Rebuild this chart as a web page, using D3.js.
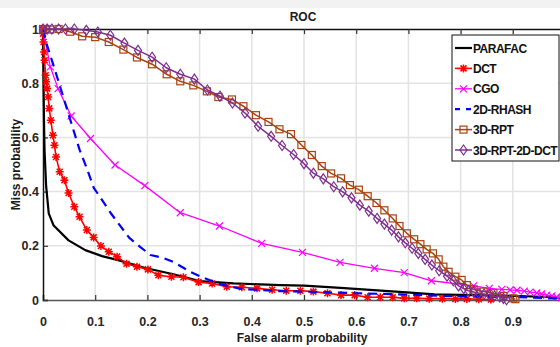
<!DOCTYPE html>
<html>
<head>
<meta charset="utf-8">
<script src="https://cdn.jsdelivr.net/npm/d3@7"></script>
<style>
  body { margin: 0; background: #fff; }
  svg { display: block; font-family: "Liberation Sans", Arial, sans-serif; }
</style>
</head>
<body>
<svg id="chart" width="560" height="347"></svg>
<script>
// ROC curves: [false alarm, miss]
const parafac = [[0,1],[0.001,0.8],[0.002,0.65],[0.003,0.55],[0.006,0.42],[0.011,0.32],[0.02,0.276],[0.049,0.22],
  [0.081,0.184],[0.113,0.162],[0.144,0.147],[0.196,0.118],[0.25,0.095],[0.3,0.07],[0.365,0.061],[0.454,0.055],
  [0.5,0.053],[0.57,0.045],[0.697,0.028],[0.75,0.021],[0.9,0.015],[0.97,0.011],[1,0.006]];

const dct = [[0,1],[0,0.983],[0.001,0.952],[0.002,0.915],[0.003,0.885],[0.005,0.829],[0.006,0.805],[0.008,0.78],
  [0.01,0.749],[0.012,0.707],[0.015,0.663],[0.019,0.608],[0.022,0.571],[0.025,0.528],[0.032,0.473],[0.041,0.442],
  [0.049,0.395],[0.06,0.344],[0.07,0.307],[0.084,0.258],[0.097,0.231],[0.111,0.199],[0.126,0.178],[0.142,0.16],
  [0.16,0.134],[0.18,0.123],[0.201,0.113],[0.221,0.091],[0.246,0.086],[0.269,0.084],[0.298,0.066],[0.324,0.061],
  [0.352,0.049],[0.381,0.047],[0.41,0.043],[0.439,0.038],[0.466,0.034],[0.493,0.034],[0.518,0.031],[0.545,0.025],
  [0.571,0.018],[0.597,0.018],[0.622,0.01],[0.646,0.01],[0.67,0.01],[0.692,0.006],[0.716,0.006],[0.74,0.005],
  [0.765,0.005],[0.79,0.004],[0.812,0.004],[0.835,0.003],[0.858,0.002]];

const cgo = [[0,1],[0.014,0.86],[0.029,0.78],[0.054,0.679],[0.091,0.596],[0.138,0.498],[0.195,0.422],[0.263,0.322],
  [0.338,0.273],[0.419,0.209],[0.497,0.176],[0.569,0.139],[0.635,0.117],[0.692,0.101],[0.744,0.071],[0.825,0.052],
  [0.855,0.043],[0.879,0.039],[0.895,0.037],[0.908,0.036],[0.922,0.033],[0.933,0.029],[0.946,0.026],[0.955,0.022],
  [0.965,0.018],[0.975,0.015],[0.984,0.011],[0.993,0.008],[1,0.005]];

const rhash = [[0,1],[0.006,0.95],[0.021,0.86],[0.038,0.755],[0.053,0.66],[0.07,0.555],[0.085,0.48],[0.097,0.415],
  [0.13,0.32],[0.165,0.23],[0.186,0.196],[0.206,0.166],[0.231,0.155],[0.25,0.14],[0.282,0.104],[0.31,0.08],
  [0.34,0.058],[0.38,0.041],[0.45,0.033],[0.5,0.031],[0.6,0.025],[0.7,0.02],[0.8,0.013],[0.9,0.011],[1,0.005]];

const rpt = [[0,1],[0.005,1],[0.014,0.998],[0.03,1],[0.052,0.99],[0.075,0.973],[0.1,0.97],[0.126,0.952],[0.154,0.924],
  [0.18,0.895],[0.209,0.87],[0.237,0.833],[0.263,0.807],[0.288,0.792],[0.314,0.77],[0.336,0.749],[0.362,0.74],
  [0.384,0.715],[0.408,0.682],[0.432,0.657],[0.453,0.63],[0.475,0.612],[0.495,0.572],[0.515,0.535],[0.534,0.494],
  [0.552,0.467],[0.571,0.449],[0.588,0.424],[0.605,0.407],[0.622,0.383],[0.639,0.358],[0.654,0.331],[0.67,0.301],
  [0.683,0.273],[0.697,0.246],[0.711,0.224],[0.723,0.206],[0.735,0.187],[0.747,0.172],[0.758,0.15],[0.767,0.123],
  [0.777,0.104],[0.79,0.086],[0.802,0.074],[0.812,0.055],[0.825,0.039],[0.844,0.031],[0.863,0.025],[0.882,0.015],
  [0.901,0.006],[0.905,0.003]];

const rptDct = [[0,1],[0.008,1],[0.017,1],[0.03,1],[0.043,1],[0.06,1],[0.083,0.995],[0.105,0.989],[0.129,0.977],
  [0.156,0.948],[0.182,0.921],[0.209,0.896],[0.236,0.857],[0.263,0.833],[0.29,0.815],[0.315,0.775],[0.339,0.752],
  [0.363,0.727],[0.387,0.69],[0.412,0.641],[0.437,0.604],[0.458,0.57],[0.48,0.537],[0.5,0.503],[0.518,0.468],
  [0.537,0.447],[0.557,0.418],[0.574,0.399],[0.591,0.377],[0.607,0.35],[0.624,0.328],[0.64,0.301],[0.654,0.28],
  [0.668,0.258],[0.681,0.233],[0.694,0.211],[0.707,0.191],[0.719,0.172],[0.732,0.15],[0.745,0.129],[0.759,0.108],
  [0.774,0.088],[0.786,0.071],[0.796,0.052],[0.806,0.042],[0.815,0.034],[0.825,0.03],[0.835,0.025],[0.845,0.022],
  [0.855,0.019],[0.865,0.015],[0.875,0.011],[0.882,0.006],[0.888,0.001]];

const seriesNames = ["PARAFAC", "DCT", "CGO", "2D-RHASH", "3D-RPT", "3D-RPT-2D-DCT"];
const xTicks = [0, 0.1, 0.2, 0.3, 0.4, 0.5, 0.6, 0.7, 0.8, 0.9];
const yTicks = [0, 0.2, 0.4, 0.6, 0.8, 1];

const series = [
  { name: seriesNames[0], data: parafac, color: "#000000", width: 2.2, marker: null },
  { name: seriesNames[1], data: dct, color: "#ff0000", width: 1.6, marker: "star" },
  { name: seriesNames[2], data: cgo, color: "#ff00ff", width: 1.3, marker: "x" },
  { name: seriesNames[3], data: rhash, color: "#0000ff", width: 2.2, marker: null, dash: "9,6" },
  { name: seriesNames[4], data: rpt, color: "#a8430f", width: 1.5, marker: "square" },
  { name: seriesNames[5], data: rptDct, color: "#7e2f8e", width: 1.5, marker: "diamond" }
];

const svg = d3.select("#chart");
const margin = { top: 29, left: 43, bottom: 47 };
const plotW = 522;
const height = 347;

const x = d3.scaleLinear().domain([0, 1]).range([margin.left, margin.left + plotW]);
const y = d3.scaleLinear().domain([0, 1]).range([height - margin.bottom, margin.top]);

// faint scan background
svg.append("rect").attr("x", 0).attr("y", 0).attr("width", 560).attr("height", 347).attr("fill", "#fff");
svg.append("rect").attr("x", 0).attr("y", 0).attr("width", 560).attr("height", 8).attr("fill", "#f2f2f2");

// grid
svg.append("g")
  .selectAll("line")
  .data(xTicks.slice(1))
  .enter()
  .append("line")
  .attr("x1", (d) => x(d)).attr("x2", (d) => x(d))
  .attr("y1", y(0)).attr("y2", y(1))
  .attr("stroke", "#e3e3e3").attr("stroke-width", 1.5);

svg.append("g")
  .selectAll("line")
  .data(yTicks.slice(1, -1))
  .enter()
  .append("line")
  .attr("x1", x(0)).attr("x2", x(1))
  .attr("y1", (d) => y(d)).attr("y2", (d) => y(d))
  .attr("stroke", "#e3e3e3").attr("stroke-width", 1.5);

// axes (MATLAB style, ticks inward)
const xAxis = d3.axisBottom(x).tickValues(xTicks).tickSize(-5).tickPadding(17).tickFormat(d3.format("~g"));
const xAxisG = svg.append("g").attr("transform", `translate(0,${y(0)})`).call(xAxis);
xAxisG.select(".domain").attr("stroke", "#555").attr("stroke-width", 1.5);

const xAxisTop = d3.axisTop(x).tickValues(xTicks).tickSize(-5).tickFormat("");
const xTopG = svg.append("g").attr("transform", `translate(0,${y(1)})`).call(xAxisTop);
xTopG.select(".domain").attr("stroke", "#111").attr("stroke-width", 1.5);

const yAxis = d3.axisLeft(y).tickValues(yTicks).tickSize(-5).tickPadding(4).tickFormat(d3.format("~g"));
const yAxisG = svg.append("g").attr("transform", `translate(${x(0)},0)`).call(yAxis);
yAxisG.select(".domain").attr("stroke", "#111").attr("stroke-width", 1.5);

svg.selectAll(".tick line").attr("stroke", "#333").attr("stroke-width", 1.2);
svg.selectAll(".tick text")
  .style("font-size", "12.5px").style("font-weight", "bold").attr("fill", "#262626");

// titles
svg.append("text").text("ROC")
  .attr("x", 303).attr("y", 21).attr("text-anchor", "middle")
  .style("font-size", "12px").style("font-weight", "bold").attr("fill", "#1a1a1a");

svg.append("text").text("False alarm probability")
  .attr("x", 302).attr("y", 342).attr("text-anchor", "middle")
  .style("font-size", "12px").style("font-weight", "bold").attr("fill", "#1a1a1a");

svg.append("text").text("Miss probability")
  .attr("transform", `translate(20,${y(0.5)}) rotate(-90)`).attr("text-anchor", "middle")
  .style("font-size", "12px").style("font-weight", "bold").attr("fill", "#1a1a1a");

// markers
const drawMarker = (sel, type, color) => {
  if (type === "star") {
    sel.append("path").attr("d", "M-4,0H4M0,-4V4M-3,-3L3,3M-3,3L3,-3")
      .attr("stroke", color).attr("stroke-width", 1.5).attr("fill", "none");
  } else if (type === "x") {
    sel.append("path").attr("d", "M-3.5,-3.5L3.5,3.5M-3.5,3.5L3.5,-3.5")
      .attr("stroke", color).attr("stroke-width", 1.2).attr("fill", "none");
  } else if (type === "square") {
    sel.append("rect").attr("x", -3.5).attr("y", -3.5).attr("width", 7).attr("height", 7)
      .attr("stroke", color).attr("stroke-width", 1.2).attr("fill", "none");
  } else if (type === "diamond") {
    sel.append("path").attr("d", "M0,-5L3.5,0L0,5L-3.5,0Z")
      .attr("stroke", color).attr("stroke-width", 1.2).attr("fill", "none");
  }
};

const line = d3.line().x((d) => x(d[0])).y((d) => y(d[1]));

const plotG = svg.append("g");
series.forEach((s) => {
  plotG.append("path")
    .datum(s.data)
    .attr("d", line)
    .attr("fill", "none")
    .attr("stroke", s.color)
    .attr("stroke-width", s.width)
    .attr("stroke-dasharray", s.dash || null)
    .attr("stroke-linejoin", "round");
  if (s.marker) {
    plotG.selectAll(null)
      .data(s.data)
      .enter()
      .append("g")
      .attr("transform", (d) => `translate(${x(d[0])},${y(d[1])})`)
      .each(function () { drawMarker(d3.select(this), s.marker, s.color); });
  }
});

// legend
const legend = svg.append("g").attr("transform", "translate(452,35)");
legend.append("rect").attr("width", 107).attr("height", 126)
  .attr("fill", "#fff").attr("stroke", "#111").attr("stroke-width", 1);

const items = legend.selectAll(".item")
  .data(series)
  .enter()
  .append("g")
  .attr("transform", (d, i) => `translate(0,${13 + i * 20.4})`);

items.append("line")
  .attr("x1", 3).attr("x2", 20).attr("y1", 0).attr("y2", 0)
  .attr("stroke", (d) => d.color)
  .attr("stroke-width", (d) => d.width)
  .attr("stroke-dasharray", (d) => d.dash ? "5,6" : null);

items.each(function (d) {
  if (d.marker) {
    const g = d3.select(this).append("g").attr("transform", "translate(11.5,0)");
    drawMarker(g, d.marker, d.color);
  }
});

items.append("text")
  .text((d) => d.name)
  .attr("x", 21).attr("y", 4.5)
  .style("font-size", "12px").style("font-weight", "bold")
  .style("letter-spacing", "-0.5px").attr("fill", "#111");
</script>
</body>
</html>
